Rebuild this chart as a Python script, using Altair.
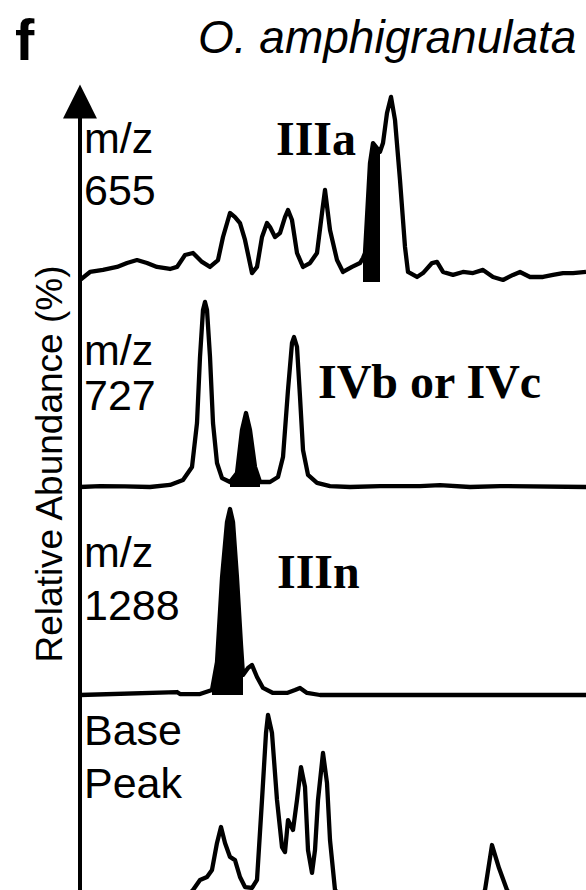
import altair as alt
import pandas as pd

# ---------------- data (retention time in min, relative abundance in %) -------------
PANELS = ["m/z 655", "m/z 727", "m/z 1288", "Base Peak"]

P1_T = [0.0, 1.0, 2.3, 3.7, 4.7, 5.7, 6.7, 7.7, 9.0, 9.7, 10.5, 11.3, 12.2, 13.0, 13.8,
        14.3, 15.0, 15.5, 16.0, 16.5, 17.2, 17.7, 18.2, 18.7, 19.0, 19.5, 20.0, 20.5, 20.8,
        21.2, 21.7, 22.3, 23.0, 23.7, 24.2, 24.5, 25.0, 25.7, 26.3, 27.2, 28.0, 28.3, 28.5,
        29.0, 29.3, 30.0, 30.3, 30.7, 31.1, 31.5, 32.0, 32.5, 32.8, 33.7, 34.3, 35.2, 35.7,
        36.3, 37.3, 38.3, 39.3, 40.3, 41.3, 42.3, 43.3, 44.0, 45.0, 46.3, 47.3, 48.3, 49.3, 50.6]
P1_I = [1.1, 5.4, 6.5, 8.1, 10.2, 11.8, 10.2, 8.1, 7.0, 8.1, 14.5, 15.6, 10.8, 8.1, 11.8,
        24.2, 37.1, 34.9, 31.7, 22.6, 4.8, 8.1, 24.2, 31.7, 29.6, 24.2, 26.3, 34.9, 38.7,
        33.3, 15.6, 8.1, 10.2, 15.6, 37.1, 49.5, 28.0, 11.8, 5.4, 8.1, 10.2, 12.9, 15.6,
        64.0, 74.7, 70.0, 74.7, 90.9, 99.5, 87.1, 54.8, 18.8, 5.4, 2.7, 4.8, 10.2, 10.8,
        5.4, 3.8, 5.4, 4.8, 6.5, 2.7, 1.1, 3.8, 5.4, 2.7, 2.7, 3.8, 4.8, 4.8, 5.4]

P2_T = [0.0, 2.0, 4.5, 7.0, 9.0, 10.3, 11.2, 11.7, 12.0, 12.3, 12.5, 12.7, 13.0, 13.3, 13.7,
        14.2, 15.0, 15.7, 16.2, 16.6, 17.0, 17.5, 18.0, 19.0, 19.8, 20.3, 20.8, 21.2, 21.4,
        21.7, 22.0, 22.3, 22.8, 23.7, 25.0, 27.0, 30.0, 34.0, 36.0, 39.0, 42.0, 50.6]
P2_I = [0.0, 0.5, 0.3, 0.0, 1.1, 3.8, 10.8, 34.4, 69.9, 95.2, 99.5, 95.2, 69.9, 34.4, 12.9,
        4.8, 2.7, 7.5, 30.6, 39.8, 30.6, 10.8, 2.7, 2.7, 5.4, 16.1, 52.2, 77.4, 80.6,
        75.3, 48.4, 19.9, 6.5, 2.2, 0.5, 0.0, 0.5, 0.5, 1.0, 0.0, 0.5, 0.0]

P3_T = [0.0, 9.7, 10.0, 12.0, 13.2, 13.7, 14.2, 14.7, 15.0, 15.3, 15.7, 16.1, 16.3, 16.8,
        17.2, 17.7, 18.3, 19.3, 20.7, 21.5, 22.0, 22.7, 24.0, 50.6]
P3_I = [0.0, 1.6, 0.5, 0.5, 2.7, 17.7, 62.9, 93.0, 100.0, 93.0, 62.9, 26.9, 10.8, 14.5,
        16.1, 9.7, 3.8, 1.1, 1.1, 2.7, 3.8, 1.1, 0.0, 0.0]

P4_T = [0.0, 10.5, 11.3, 12.0, 12.7, 13.2, 13.7, 14.1, 14.5, 15.0, 15.5, 16.0, 16.5, 17.2,
        17.7, 18.2, 18.6, 18.8, 19.2, 19.7, 20.2, 20.5, 20.8, 21.3, 21.7, 22.1, 22.5, 22.8,
        23.2, 23.5, 23.8, 24.3, 24.7, 25.0, 25.5, 26.5, 40.0, 40.5, 41.2, 41.9, 42.7, 43.5, 50.6]
P4_I = [0.0, 1.6, 5.9, 11.3, 12.9, 16.7, 31.2, 39.8, 31.2, 23.7, 22.0, 12.9, 7.5, 7.0,
        11.3, 54.3, 90.3, 100.0, 90.3, 54.3, 29.0, 26.3, 43.5, 38.2, 54.3, 72.0, 61.3, 27.4,
        15.1, 27.4, 54.3, 79.6, 63.4, 32.8, 5.9, 0.5, 1.6, 5.9, 30.1, 17.7, 5.9, 0.5, 0.0]

# shaded (black) peak retention-time windows per panel
FILL_START = [28.3, 15.0, 13.2, None]
FILL_END = [30.0, 18.0, 16.3, None]

# ---------------- layout (stacking of the four traces) ----------------
OFFSET = [608, 403, 195, -11]   # baseline of each trace on the stacked axis
GAIN = 1.86                     # stacked-axis units per % abundance
LW = 4.3

series = [(P1_T, P1_I), (P2_T, P2_I), (P3_T, P3_I), (P4_T, P4_I)]
rows = []
for k, (ts, vals) in enumerate(series):
    for t, v in zip(ts, vals):
        rows.append({"panel": PANELS[k], "t": t, "abundance": v,
                     "y": OFFSET[k] + v * GAIN, "y0": OFFSET[k]})
df = pd.DataFrame(rows)

fill_rows = []
for k, (ts, vals) in enumerate(series):
    if FILL_START[k] is None:
        continue
    for t, v in zip(ts, vals):
        if FILL_START[k] <= t <= FILL_END[k]:
            fill_rows.append({"panel": PANELS[k], "t": t,
                              "y": OFFSET[k] + v * GAIN, "y0": OFFSET[k]})
df_fill = pd.DataFrame(fill_rows)

xscale = alt.Scale(domain=[0, 50.6], nice=False, zero=False)
yscale = alt.Scale(domain=[0, 800], nice=False, zero=False)
X = alt.X("t:Q", scale=xscale, axis=None)

area = alt.Chart(df_fill).mark_area(color="black", opacity=1, clip=True).encode(
    x=X,
    y=alt.Y("y:Q", scale=yscale, axis=None),
    y2="y0:Q",
    detail="panel:N",
)

line = alt.Chart(df).mark_line(
    color="black", strokeWidth=LW, strokeJoin="round", clip=True
).encode(
    x=X,
    y=alt.Y("y:Q", scale=yscale, axis=None),
    detail="panel:N",
    order="t:Q",
)

axis_line = alt.Chart(pd.DataFrame({"t": [0.0], "lo": [0], "hi": [800]})).mark_rule(
    color="black", strokeWidth=4
).encode(
    x=X,
    y=alt.Y("lo:Q", scale=yscale, axis=None),
    y2="hi:Q",
)

arrow = alt.Chart(pd.DataFrame({"t": [0.0], "y": [800]})).mark_point(
    shape="M0,-1L-1,1L1,1Z", size=1150, filled=True, color="black",
    opacity=1, strokeWidth=0, yOffset=11.5
).encode(
    x=X,
    y=alt.Y("y:Q", scale=yscale, axis=None),
)

one = pd.DataFrame({"a": [0]})


def label(txt, px, py, font="Liberation Sans", size=43, weight="normal",
          style="normal", angle=0, align="left"):
    return alt.Chart(one).mark_text(
        font=font, fontSize=size, fontWeight=weight, fontStyle=style,
        angle=angle, align=align, baseline="alphabetic", color="black"
    ).encode(x=alt.value(px), y=alt.value(py), text=alt.value(txt))


texts = [
    label("f", -65, -30, size=58, weight="bold"),
    label("O. amphigranulata", 118, -37, size=46, style="italic"),
    label("Relative Abundance (%)", -18, 374, size=37, angle=270, align="center"),
    label("m/z", 4, 63), label("655", 4, 115),
    label("m/z", 4, 275), label("727", 4, 320),
    label("m/z", 4, 477), label("1288", 4, 530),
    label("Base", 4, 655), label("Peak", 4, 708),
    label("IIIa", 196, 65, font="Liberation Serif", size=48, weight="bold"),
    label("IVb or IVc", 238, 308, font="Liberation Serif", size=48, weight="bold"),
    label("IIIn", 197, 498, font="Liberation Serif", size=48, weight="bold"),
]

chart = alt.layer(area, line, axis_line, arrow, *texts).properties(
    width=506, height=800,
    padding={"left": 80, "top": 90, "right": 0, "bottom": 0},
    autosize=alt.AutoSizeParams(type="none"),
    background="white",
).configure_view(stroke=None)

chart.save("out.html", embed_options={"renderer": "svg", "actions": False})
